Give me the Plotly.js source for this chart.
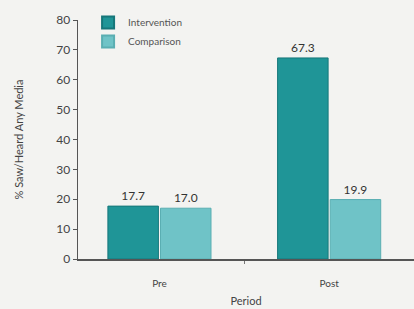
<!DOCTYPE html>
<html><head><meta charset="utf-8">
<script src="https://cdn.plot.ly/plotly-3.0.1.min.js"></script>
<style>html,body{margin:0;padding:0;background:#f3f3f1;}</style>
</head><body><div id="chart" style="width:414px;height:309px;"></div>
<script>
const periods = ["Pre", "Post"];
const intervention = [17.7, 67.3];
const comparison = [17.0, 19.9];
const yTicks = [0, 10, 20, 30, 40, 50, 60, 70, 80];

const traces = [
  {type: "bar", name: "Intervention", x: periods, y: intervention,
   text: intervention.map(v => v.toFixed(1)), textposition: "outside",
   textfont: {size: 12, color: "#333"}, cliponaxis: false,
   marker: {color: "#1f9597", line: {color: "#16777a", width: 1}}},
  {type: "bar", name: "Comparison", x: periods, y: comparison,
   text: comparison.map(v => v.toFixed(1)), textposition: "outside",
   textfont: {size: 12, color: "#333"}, cliponaxis: false,
   marker: {color: "#6fc3c7", line: {color: "#5aaeb2", width: 1}}}
];

const layout = {
  width: 414, height: 309,
  margin: {l: 78, r: 0, t: 20, b: 50},
  paper_bgcolor: "#f3f3f1", plot_bgcolor: "#f3f3f1",
  font: {family: "Lato, 'DejaVu Sans', sans-serif", color: "#444", size: 10},
  barmode: "group", bargap: 0.38, bargroupgap: 0.04,
  showlegend: true,
  legend: {x: 0.03, y: 1.05, xanchor: "left", yanchor: "top",
           bgcolor: "rgba(0,0,0,0)", font: {size: 10, color: "#555"},
           tracegroupgap: 0, itemwidth: 30, itemsizing: "constant"},
  xaxis: {range: [-0.48, 1.5], showgrid: false, zeroline: false,
          showline: true, linecolor: "#555", linewidth: 1.5,
          ticks: "outside", tickson: "boundaries", ticklen: 3, tickcolor: "#777",
          ticklabelstandoff: 14,
          tickfont: {size: 10, color: "#444"},
          title: {text: "Period", font: {size: 11, color: "#444"}, standoff: 10}},
  yaxis: {range: [0, 80], tickvals: yTicks, showgrid: false, zeroline: false,
          showline: true, linecolor: "#555", linewidth: 1.5,
          ticks: "outside", ticklen: 4, tickcolor: "#555",
          tickfont: {size: 12, color: "#444"},
          title: {text: "% Saw/Heard Any Media", font: {size: 11, color: "#444"}, standoff: 30}}
};

Plotly.newPlot("chart", traces, layout, {displayModeBar: false, staticPlot: true});
</script></body></html>
